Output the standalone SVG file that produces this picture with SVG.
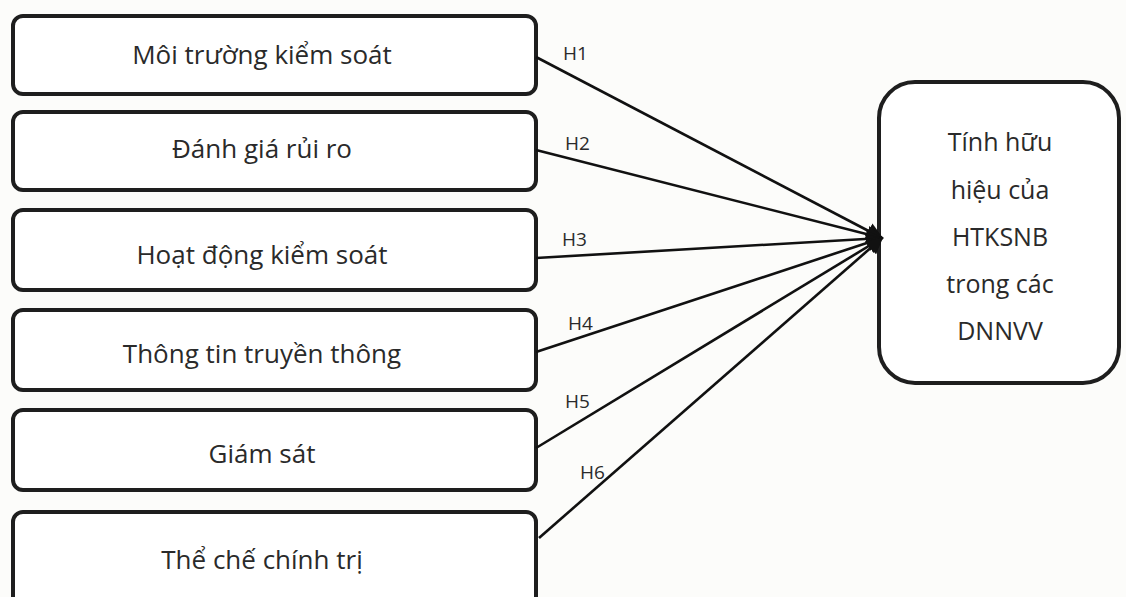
<svg xmlns="http://www.w3.org/2000/svg" width="1126" height="597" viewBox="0 0 1126 597">
<defs>
<style>
.box{fill:#ffffff;stroke:#1e1e1e;stroke-width:4}
.t{font-family:"Open Sans","Noto Sans","DejaVu Sans",sans-serif;font-size:26px;fill:#2a2a2a;text-anchor:middle}
.r{font-family:"Open Sans","Noto Sans","DejaVu Sans",sans-serif;font-size:25px;fill:#2a2a2a;text-anchor:middle}
.h{font-family:"Open Sans","Noto Sans","DejaVu Sans",sans-serif;font-size:19px;fill:#2a2a2a}
.c{stroke:#111;stroke-width:2.6;fill:none;marker-end:url(#ah)}
</style>
<marker id="ah" viewBox="0 0 10 10" refX="9" refY="5" markerWidth="6.5" markerHeight="6.5" orient="auto" markerUnits="strokeWidth">
<path d="M0,0 L10,5 L0,10 Z" fill="#111"/>
</marker>
</defs>
<rect width="1126" height="597" fill="#fcfcfa"/>
<g id="n1"><rect class="box" x="13" y="16" width="523" height="78" rx="10"/><text class="t" x="262" y="64">Môi trường kiểm soát</text></g>
<g id="n2"><rect class="box" x="13" y="112" width="523" height="78" rx="10"/><text class="t" x="262" y="158">Đánh giá rủi ro</text></g>
<g id="n3"><rect class="box" x="13" y="210" width="523" height="80" rx="10"/><text class="t" x="262" y="264">Hoạt động kiểm soát</text></g>
<g id="n4"><rect class="box" x="13" y="310" width="523" height="80" rx="10"/><text class="t" x="262" y="363">Thông tin truyền thông</text></g>
<g id="n5"><rect class="box" x="13" y="410" width="523" height="80" rx="10"/><text class="t" x="262" y="463">Giám sát</text></g>
<g id="n6"><rect class="box" x="13" y="512" width="523" height="100" rx="10"/><text class="t" x="262" y="569">Thể chế chính trị</text></g>
<g id="target"><rect class="box" x="879" y="82" width="240" height="301" rx="36"/>
<text class="r"><tspan x="1000" y="151">Tính hữu</tspan><tspan x="1000" y="199">hiệu của</tspan><tspan x="1000" y="246">HTKSNB</tspan><tspan x="1000" y="293">trong các</tspan><tspan x="1000" y="340">DNNVV</tspan></text></g>
<g id="connectors">
<line class="c" x1="536" y1="57" x2="882" y2="238"/>
<line class="c" x1="536" y1="150" x2="882" y2="238"/>
<line class="c" x1="536" y1="258" x2="882" y2="238"/>
<line class="c" x1="536" y1="352" x2="882" y2="238"/>
<line class="c" x1="536" y1="448" x2="882" y2="238"/>
<line class="c" x1="539" y1="538" x2="882" y2="238"/>
<text class="h" x="563" y="60">H1</text>
<text class="h" x="565" y="150">H2</text>
<text class="h" x="562" y="246">H3</text>
<text class="h" x="568" y="330">H4</text>
<text class="h" x="565" y="408">H5</text>
<text class="h" x="580" y="479">H6</text>
</g>
</svg>
